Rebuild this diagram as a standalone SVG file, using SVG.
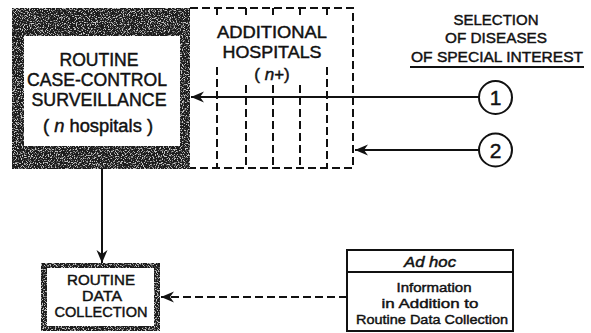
<svg xmlns="http://www.w3.org/2000/svg" width="591" height="333" viewBox="0 0 591 333">
<style>
  .t { font-family: "Liberation Sans", Arial, sans-serif; fill: #111; text-anchor: middle; }
  .w { stroke: #111; stroke-width: 0.45; }
  .ln { stroke: #111; stroke-width: 2; fill: none; }
  .dash { stroke: #111; stroke-width: 2; fill: none; stroke-dasharray: 8 4; }
  .frame { fill: #1c1c1c; }
</style>
<defs>
  <marker id="arr" markerUnits="userSpaceOnUse" markerWidth="14" markerHeight="12" refX="13" refY="6" orient="auto">
    <path d="M0,0.5 L13,6 L0,11.5 L4,6 Z" fill="#111"/>
  </marker>
  <filter id="speck" x="0" y="0" width="100%" height="100%">
    <feTurbulence type="fractalNoise" baseFrequency="0.85" numOctaves="2" seed="7" result="n"/>
    <feColorMatrix in="n" type="matrix" values="0 0 0 0 1  0 0 0 0 1  0 0 0 0 1  7 0 0 0 -3.6" result="w"/>
    <feComposite in="w" in2="SourceGraphic" operator="in"/>
  </filter>
</defs>

<g id="routine-surveillance">
  <rect class="frame" x="12" y="8" width="178" height="161"/>
  <rect x="12" y="8" width="178" height="161" fill="#000" filter="url(#speck)" opacity="0.75"/>
  <rect x="24" y="36" width="156" height="110" fill="#fff"/>
  <text class="t w" x="99" y="66" font-size="18" textLength="79" lengthAdjust="spacingAndGlyphs">ROUTINE</text>
  <text class="t w" x="97" y="86" font-size="18" textLength="140" lengthAdjust="spacingAndGlyphs">CASE-CONTROL</text>
  <text class="t w" x="99" y="106" font-size="18" textLength="135" lengthAdjust="spacingAndGlyphs">SURVEILLANCE</text>
  <text class="t w" x="98" y="132" font-size="18" textLength="110" lengthAdjust="spacingAndGlyphs">( <tspan font-style="italic">n</tspan> hospitals )</text>
</g>

<g id="additional-hospitals">
  <path class="dash" d="M190,8 H353 V168 H190"/>
  <path class="ln" d="M217,8 V15 M246,8 V15 M273,8 V15 M300,8 V15 M327,8 V15"/>
  <path class="dash" d="M217,67 V168 M246,85 V168 M273,85 V168 M300,85 V168 M327,67 V168"/>
  <text class="t w" x="272" y="38" font-size="17" textLength="110" lengthAdjust="spacingAndGlyphs">ADDITIONAL</text>
  <text class="t w" x="272" y="58" font-size="17" textLength="99" lengthAdjust="spacingAndGlyphs">HOSPITALS</text>
  <text class="t w" x="272" y="80" font-size="17">( <tspan font-style="italic">n</tspan>+)</text>
</g>

<g id="selection-title">
  <text class="t w" x="496" y="25" font-size="15" textLength="85" lengthAdjust="spacingAndGlyphs">SELECTION</text>
  <text class="t w" x="496" y="43" font-size="15" textLength="102" lengthAdjust="spacingAndGlyphs">OF DISEASES</text>
  <text class="t w" x="497" y="62" font-size="15" textLength="172" lengthAdjust="spacingAndGlyphs">OF SPECIAL INTEREST</text>
  <line class="ln" x1="410" y1="67" x2="584" y2="67"/>
</g>

<g id="circle-1">
  <circle cx="495.5" cy="97.5" r="16.5" fill="#fff" stroke="#111" stroke-width="2"/>
  <text class="t w" x="495.5" y="105" font-size="21">1</text>
</g>

<g id="circle-2">
  <circle cx="495.5" cy="150" r="16.5" fill="#fff" stroke="#111" stroke-width="2"/>
  <text class="t w" x="495.5" y="157.5" font-size="21">2</text>
</g>

<g id="routine-data-collection">
  <rect class="frame" x="41" y="263" width="119" height="68"/>
  <rect x="41" y="263" width="119" height="68" fill="#000" filter="url(#speck)" opacity="0.75"/>
  <rect x="47" y="268" width="107" height="58" fill="#fff"/>
  <text class="t w" x="101" y="285" font-size="15" textLength="68" lengthAdjust="spacingAndGlyphs">ROUTINE</text>
  <text class="t w" x="102" y="301" font-size="15" textLength="40" lengthAdjust="spacingAndGlyphs">DATA</text>
  <text class="t w" x="101" y="317" font-size="15" textLength="93" lengthAdjust="spacingAndGlyphs">COLLECTION</text>
</g>

<g id="ad-hoc">
  <rect x="347" y="250" width="166" height="81" fill="#fff" stroke="#111" stroke-width="2"/>
  <line class="ln" x1="347" y1="272" x2="513" y2="272"/>
  <text class="t w" x="430" y="267" font-size="14" font-style="italic" textLength="52" lengthAdjust="spacingAndGlyphs">Ad hoc</text>
  <text class="t w" x="434" y="292" font-size="13.5" textLength="75" lengthAdjust="spacingAndGlyphs">Information</text>
  <text class="t w" x="430" y="308" font-size="13.5" textLength="97" lengthAdjust="spacingAndGlyphs">in Addition to</text>
  <text class="t w" x="432" y="324" font-size="13.5" textLength="152" lengthAdjust="spacingAndGlyphs">Routine Data Collection</text>
</g>

<g id="connectors">
  <line class="ln" x1="479" y1="97" x2="191" y2="97" marker-end="url(#arr)"/>
  <line class="ln" x1="479" y1="150" x2="355" y2="150" marker-end="url(#arr)"/>
  <line class="ln" x1="102" y1="169" x2="102" y2="263" marker-end="url(#arr)"/>
  <line class="dash" x1="347" y1="297" x2="161" y2="297" marker-end="url(#arr)"/>
</g>
</svg>
